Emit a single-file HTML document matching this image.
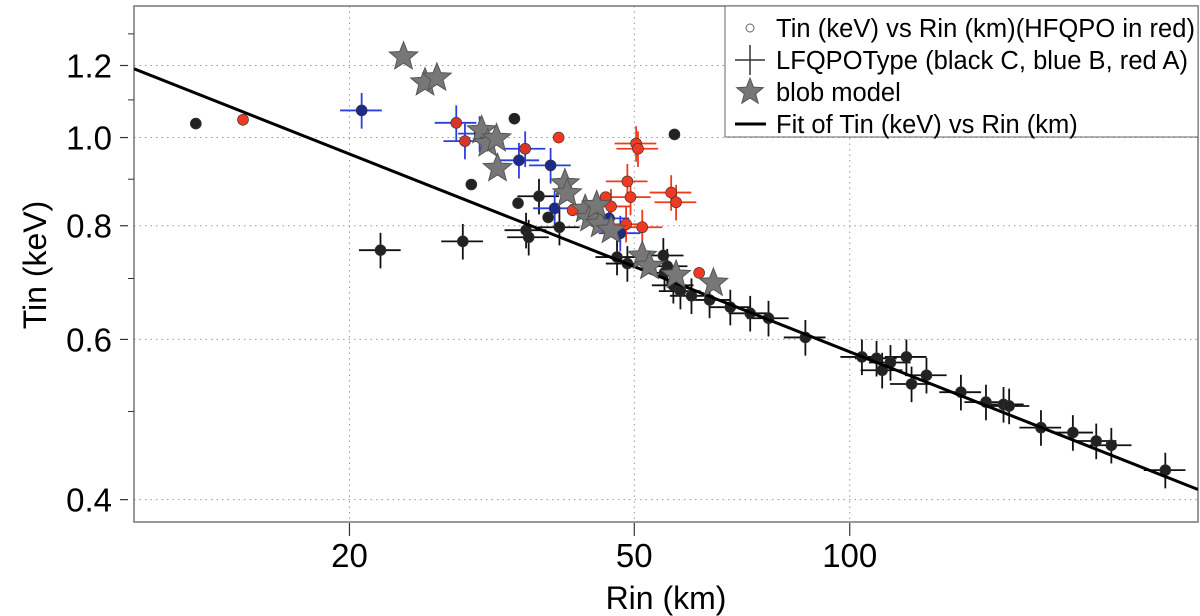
<!DOCTYPE html>
<html><head><meta charset="utf-8"><style>
html,body{margin:0;padding:0;background:#fff}
svg{display:block;font-family:"Liberation Sans",sans-serif}
</style></head><body>
<svg id="chart" width="1200" height="616" viewBox="0 0 1200 616" xmlns="http://www.w3.org/2000/svg"></svg>
<script>
// ---- data ----
const xTicks = [20, 50, 100];
const yTicks = [0.4, 0.6, 0.8, 1.0, 1.2];
const yTickLabels = ["0.4", "0.6", "0.8", "1.0", "1.2"];
const yMinor = [0.5, 0.7, 0.9, 1.1, 1.3];
// fit: T = fitA * (R/10)^fitB
const fitA = 1.19;
const fitB = -0.311;
// type C (black) with error bars
const cR = [22.1,28.8,35.3,35.6,39.3,36.8,47.3,48.9,54.9,55.6,55.1,56.7,58.0,60.1,63.7,68.1,72.6,77.0,86.7,104,109,111,114,120,122,128,143,155,164,167,185,205,221,232,276];
const cT = [0.752,0.769,0.791,0.777,0.797,0.862,0.739,0.727,0.742,0.722,0.710,0.688,0.678,0.670,0.663,0.651,0.641,0.633,0.603,0.574,0.572,0.555,0.566,0.574,0.536,0.548,0.525,0.512,0.509,0.507,0.480,0.474,0.464,0.459,0.431];
// type B (blue) with error bars
const bR = [20.8,30.4,34.5,38.2,38.7,46.1,47.8];
const bT = [1.071,1.010,0.944,0.932,0.836,0.815,0.785];
// HFQPO (red fill) with type B bars
const hbR = [28.2,29.0,35.2];
const hbT = [1.038,0.991,0.972];
// type A (red) with error bars
const aR = [50.3,50.6,48.9,49.4,56.3,57.2,48.7,51.3,46.4];
const aT = [0.985,0.972,0.895,0.860,0.870,0.849,0.803,0.797,0.840];
// points without LFQPO type (black)
const nR = [12.2,29.6,34.0,34.4,37.9,56.9];
const nT = [1.036,0.888,1.049,0.847,0.817,1.008];
// HFQPO without LFQPO type (red)
const hR = [14.2,39.2,45.6,61.6,41.0];
const hT = [1.046,1.0,0.86,0.71,0.832];
// blob model stars
const sR = [23.8,25.5,26.5,30.6,31.2,32.1,32.2,40.0,40.3,42.7,43.3,44.8,46.4,44.3,51.3,52.5,57.2,64.5];
const sT = [1.227,1.149,1.163,1.018,0.985,0.9975,0.925,0.890,0.868,0.834,0.815,0.803,0.791,0.842,0.741,0.722,0.706,0.692];
const xErrFrac = 0.067;
const yErrFrac = 0.045;

// ---- axes ----
const L=134, R=1198, T=6, B=522;
const xMin=10, xMax=306.6, yMin=0.378, yMax=1.395;
const X = v => L + (Math.log10(v)-Math.log10(xMin))/(Math.log10(xMax)-Math.log10(xMin))*(R-L);
const Y = v => B - (Math.log10(v)-Math.log10(yMin))/(Math.log10(yMax)-Math.log10(yMin))*(B-T);
const svg = document.getElementById('chart');
const NS='http://www.w3.org/2000/svg';
function mk(tag, attrs, parent){const e=document.createElementNS(NS,tag);for(const k in attrs)e.setAttribute(k,attrs[k]);(parent||svg).appendChild(e);return e;}

const grid = mk('g',{});


xTicks.forEach(v=>mk('line',{x1:X(v),x2:X(v),y1:T,y2:B,stroke:'#999','stroke-dasharray':'1.5 4','stroke-width':1},grid));
yTicks.forEach(v=>mk('line',{x1:L,x2:R,y1:Y(v),y2:Y(v),stroke:'#999','stroke-dasharray':'1.5 4','stroke-width':1},grid));

const frame = mk('rect',{x:L,y:T,width:R-L,height:B-T,fill:'none',stroke:'#777','stroke-width':1.5});



const xAxis = mk('g',{});


xTicks.forEach(v=>{
  mk('line',{x1:X(v),x2:X(v),y1:B+1,y2:B+14,stroke:'#333','stroke-width':1.2},xAxis);
  const t=mk('text',{x:X(v),y:567,'text-anchor':'middle','font-size':33,fill:'#000'},xAxis);
  t.textContent=String(v);
  
  
});

const yAxis = mk('g',{});


yTicks.forEach((v,i)=>{
  mk('line',{x1:120,x2:128,y1:Y(v),y2:Y(v),stroke:'#333','stroke-width':1.2},yAxis);
  const t=mk('text',{x:112,y:Y(v)+12,'text-anchor':'end','font-size':33,fill:'#000'},yAxis);
  t.textContent=yTickLabels[i];
  
  
});
yMinor.forEach(v=>mk('line',{x1:128,x2:134,y1:Y(v),y2:Y(v),stroke:'#333','stroke-width':1},yAxis));

const xt = mk('text',{x:666,y:609,'text-anchor':'middle','font-size':32,fill:'#000'});
xt.textContent='Rin (km)';


const yt = mk('text',{x:0,y:0,'text-anchor':'middle','font-size':32,fill:'#000',transform:'translate(46,265) rotate(-90)'});
yt.textContent='Tin (keV)';



// clip
const defs=mk('defs',{});
const cp=mk('clipPath',{id:'pc'},defs);
mk('rect',{x:L,y:T,width:R-L,height:B-T},cp);
const plot=mk('g',{'clip-path':'url(#pc)'});



function bars(rs,ts,col,name){
  const g=mk('g',{},plot);
  
  
  rs.forEach((r,i)=>{
    const t=ts[i];
    mk('line',{x1:X(r*(1-xErrFrac)),x2:X(r*(1+xErrFrac)),y1:Y(t),y2:Y(t),stroke:col,'stroke-width':1.8},g);
    mk('line',{x1:X(r),x2:X(r),y1:Y(t*(1-yErrFrac)),y2:Y(t*(1+yErrFrac)),stroke:col,'stroke-width':1.8},g);
  });
}
function dots(rs,ts,col,name){
  const g=mk('g',{},plot);
  
  
  rs.forEach((r,i)=>{
    const c=mk('circle',{cx:X(r),cy:Y(ts[i]),r:5.5,fill:col,stroke:'#333','stroke-width':0.6},g);
    
    
  });
}
bars(cR,cT,'#111','type-c-error-bars');
bars(bR,bT,'#2a3fe0','type-b-error-bars');
bars(hbR,hbT,'#2a3fe0','hfqpo-type-b-error-bars');
bars(aR,aT,'#f03a1a','type-a-error-bars');
dots(cR,cT,'#222','type-c-points');
dots(nR,nT,'#222','untyped-points');
dots(bR,bT,'#1c2b8a','type-b-points');
dots(hbR,hbT,'#d8352a','hfqpo-type-b-points');
dots(aR,aT,'#ee3a22','type-a-points');
dots(hR,hT,'#ee3a22','hfqpo-points');

// fit line
const fit=mk('line',{x1:X(xMin),y1:Y(fitA*Math.pow(xMin/10,fitB)),x2:X(xMax),y2:Y(fitA*Math.pow(xMax/10,fitB)),stroke:'#000','stroke-width':3},plot);



function star(cx,cy,ro,ri){let p=[];for(let k=0;k<10;k++){const a=-Math.PI/2+k*Math.PI/5;const rr=k%2?ri:ro;p.push((cx+rr*Math.cos(a)).toFixed(1)+','+(cy+rr*Math.sin(a)).toFixed(1));}return p.join(' ');}
const sg=mk('g',{},plot);


sR.forEach((r,i)=>{
  const s=mk('polygon',{points:star(X(r),Y(sT[i]),15,6.5),fill:'#777',stroke:'#555','stroke-width':1},sg);
  
  
});

// legend
const lg=mk('g',{});


mk('rect',{x:725,y:6,width:473,height:131,fill:'#fff',stroke:'#666','stroke-width':1},lg);
const items=['Tin (keV) vs Rin (km)(HFQPO in red)','LFQPOType (black C, blue B, red A)','blob model','Fit of Tin (keV) vs Rin (km)'];
items.forEach((s,i)=>{
  const y=28+i*32;
  const t=mk('text',{x:776,y:y+9,'font-size':25.5,fill:'#000',textLength:i===0?419:(i===1?412:null)},lg);
  if(i>1) t.removeAttribute('textLength');
  t.textContent=s;
  
  
});
mk('circle',{cx:750,cy:28,r:4,fill:'none',stroke:'#666','stroke-width':1},lg);
mk('line',{x1:735,x2:765,y1:60,y2:60,stroke:'#333','stroke-width':1.5},lg);
mk('line',{x1:750,x2:750,y1:45,y2:75,stroke:'#333','stroke-width':1.5},lg);
mk('polygon',{points:star(750,92,14,6),fill:'#777',stroke:'#555','stroke-width':1},lg);
mk('line',{x1:735,x2:766,y1:124,y2:124,stroke:'#000','stroke-width':3},lg);
</script>
</body></html>
